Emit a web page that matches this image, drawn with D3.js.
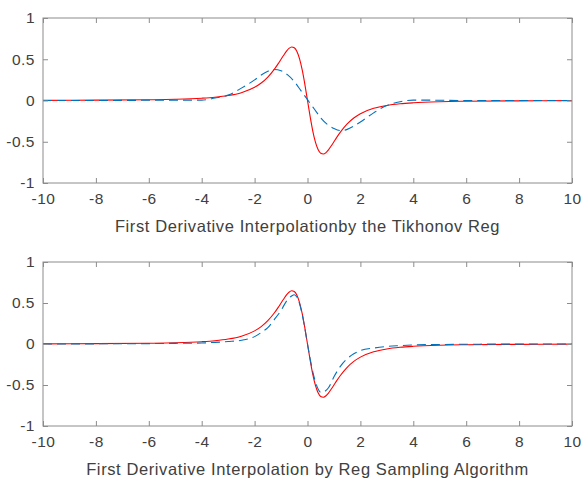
<!DOCTYPE html>
<html>
<head>
<meta charset="utf-8">
<script src="https://cdn.jsdelivr.net/npm/d3@7"></script>
<style>
  body { margin: 0; background: #fff; }
  svg { display: block; font-family: "Liberation Sans", Arial, Helvetica, sans-serif; }
</style>
</head>
<body>
<svg id="chart" width="582" height="478"></svg>
<script>
const xTicks = [-10, -8, -6, -4, -2, 0, 2, 4, 6, 8, 10];
const yTicks = [-1, -0.5, 0, 0.5, 1];

// exact first derivative (red, solid)
const exactX = [-10, -8, -6, -5, -4, -3.5, -3, -2.5, -2, -1.75, -1.5, -1.25, -1.1, -1, -0.9, -0.8, -0.7, -0.6, -0.5, -0.4, -0.3, -0.2, -0.1,
  0, 0.1, 0.2, 0.3, 0.4, 0.5, 0.6, 0.7, 0.8, 0.9, 1, 1.1, 1.25, 1.5, 1.75, 2, 2.5, 3, 3.5, 4, 5, 6, 8, 10];
const exactY = [0.002, 0.004, 0.009, 0.015, 0.028, 0.04, 0.06, 0.095, 0.16, 0.212, 0.284, 0.381, 0.45, 0.5, 0.549, 0.595, 0.631, 0.649, 0.64, 0.595, 0.505, 0.37, 0.196,
  0, -0.196, -0.37, -0.505, -0.595, -0.64, -0.649, -0.631, -0.595, -0.549, -0.5, -0.45, -0.381, -0.284, -0.212, -0.16, -0.095, -0.06, -0.04, -0.028, -0.015, -0.009, -0.004, -0.002];

// Tikhonov reg interpolation (blue, dashed) - top panel
const tikX = [-10, -8, -6, -5, -4, -3.5, -3, -2.5, -2, -1.75, -1.5, -1.25, -1, -0.75, -0.5, -0.25,
  0, 0.25, 0.5, 0.75, 1, 1.25, 1.5, 1.75, 2, 2.5, 3, 3.5, 4, 5, 6, 8, 10];
const tikY = [0, 0, 0.003, 0.005, 0.005, 0.03, 0.065, 0.15, 0.25, 0.31, 0.355, 0.375, 0.36, 0.31, 0.23, 0.12,
  0.01, -0.1, -0.21, -0.29, -0.34, -0.365, -0.35, -0.31, -0.26, -0.15, -0.06, -0.015, 0.005, 0.003, 0, 0, 0];

// reg sampling algorithm (blue, dashed) - bottom panel
const regX = [-10, -8, -6, -5, -4, -3.5, -3, -2.5, -2, -1.75, -1.5, -1.25, -1, -0.8, -0.6, -0.5, -0.4, -0.3, -0.2, -0.1,
  0, 0.1, 0.2, 0.3, 0.4, 0.5, 0.6, 0.8, 1, 1.25, 1.5, 1.75, 2, 2.5, 3, 3.5, 4, 5, 6, 8, 10];
const regY = [0, 0.002, 0.005, 0.008, 0.012, 0.02, 0.03, 0.045, 0.09, 0.14, 0.2, 0.3, 0.41, 0.52, 0.585, 0.6, 0.57, 0.49, 0.36, 0.19,
  0, -0.18, -0.34, -0.46, -0.55, -0.59, -0.585, -0.53, -0.4, -0.27, -0.18, -0.12, -0.08, -0.05, -0.03, -0.02, -0.012, -0.006, -0.003, -0.001, 0];

const panels = [
  { top: 18, height: 165, title: "First Derivative Interpolationby the Tikhonov Reg", bx: tikX, by: tikY },
  { top: 262, height: 164, title: "First Derivative Interpolation by Reg Sampling Algorithm", bx: regX, by: regY }
];

const svg = d3.select("#chart");
const left = 43, width = 529;
const axisColor = "#8c8c8c", textColor = "#404040";
// plain hyphen for negatives, like the original
const fmt = function(d) { return String(d); };

panels.forEach(function(p) {
  const g = svg.append("g").attr("transform", "translate(" + left + "," + p.top + ")");
  const x = d3.scaleLinear().domain([-10, 10]).range([0, width]);
  const y = d3.scaleLinear().domain([-1, 1]).range([p.height, 0]);

  const line = d3.line()
    .x(function(d) { return x(d[0]); })
    .y(function(d) { return y(d[1]); })
    .curve(d3.curveMonotoneX);

  g.append("path")
    .datum(d3.zip(exactX, exactY))
    .attr("d", line)
    .attr("fill", "none")
    .attr("stroke", "#ff0000")
    .attr("stroke-width", 1.1);

  g.append("path")
    .datum(d3.zip(p.bx, p.by))
    .attr("d", line)
    .attr("fill", "none")
    .attr("stroke", "#0072bd")
    .attr("stroke-width", 1.1)
    .attr("stroke-dasharray", "9,5");

  const bottom = g.append("g")
    .attr("transform", "translate(0," + p.height + ")")
    .call(d3.axisBottom(x).tickValues(xTicks).tickSize(-5).tickSizeOuter(0).tickPadding(10).tickFormat(fmt));
  const top = g.append("g")
    .call(d3.axisTop(x).tickValues(xTicks).tickSize(-5).tickSizeOuter(0).tickFormat(""));
  const leftAx = g.append("g")
    .call(d3.axisLeft(y).tickValues(yTicks).tickSize(-5).tickSizeOuter(0).tickPadding(8).tickFormat(fmt));
  const rightAx = g.append("g")
    .attr("transform", "translate(" + width + ",0)")
    .call(d3.axisRight(y).tickValues(yTicks).tickSize(-5).tickSizeOuter(0).tickFormat(""));

  [bottom, top, leftAx, rightAx].forEach(function(a) {
    a.select(".domain").remove();
    a.selectAll("line").attr("stroke", axisColor);
    a.selectAll("text").attr("fill", textColor).style("font-size", "15.5px")
      .style("letter-spacing", "0.5px")
      .style("font-family", "'Liberation Sans', Arial, Helvetica, sans-serif");
  });

  g.append("rect")
    .attr("x", 0).attr("y", 0)
    .attr("width", width).attr("height", p.height)
    .attr("fill", "none")
    .attr("stroke", axisColor)
    .attr("stroke-width", 1);

  g.append("text")
    .attr("x", width / 2)
    .attr("y", p.height + 49)
    .attr("text-anchor", "middle")
    .attr("fill", textColor)
    .style("font-size", "16.5px")
    .style("letter-spacing", "0.6px")
    .text(p.title);
});
</script>
</body>
</html>
